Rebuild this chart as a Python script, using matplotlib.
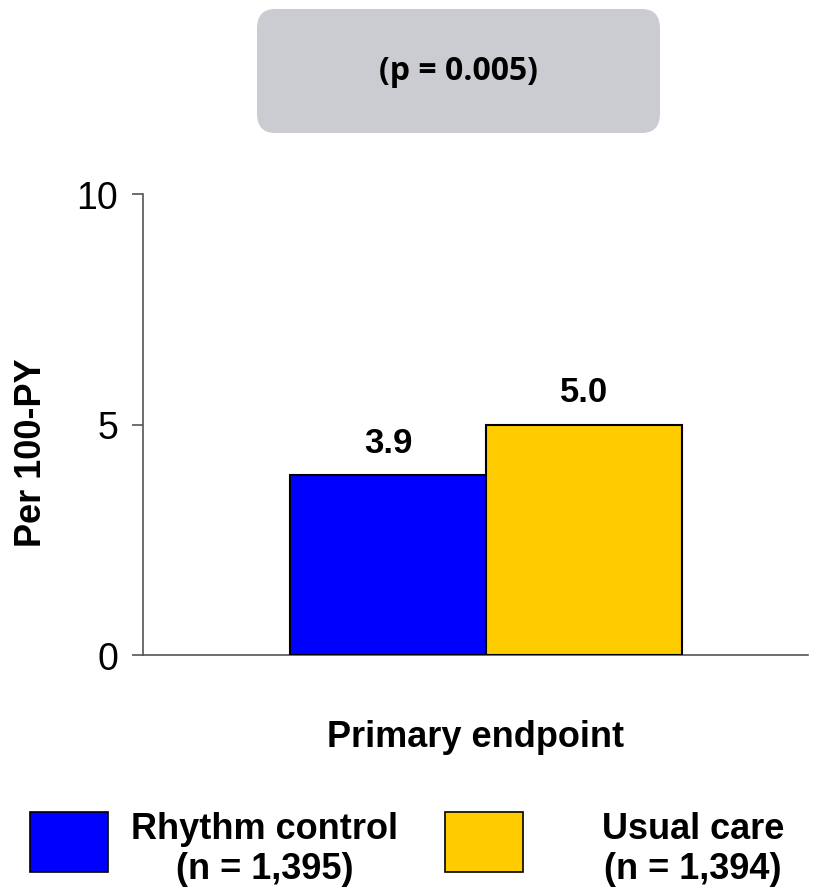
import matplotlib
matplotlib.use("Agg")
import matplotlib.pyplot as plt
from matplotlib.patches import FancyBboxPatch, Rectangle

groups = ["Rhythm control", "Usual care"]
group_n = ["(n = 1,395)", "(n = 1,394)"]
values = [3.9, 5.0]
colors = ["#0000FF", "#FFCC00"]
yticks = [0, 5, 10]
xlabel = "Primary endpoint"
ylabel = "Per 100-PY"
pvalue_text = "(p = 0.005)"

plt.rcParams['font.family'] = ['Liberation Sans', 'DejaVu Sans']

fig = plt.figure(figsize=(8.2, 8.95), dpi=100)
ax = fig.add_axes([143/820, 1-656/895, (808-143)/820, (656-195)/895])

xs = [0, 1]
ax.bar(xs, values, width=1.0, color=colors, edgecolor="black", linewidth=1.5, zorder=3)
for x, v in zip(xs, values):
    ax.text(x, v + 0.35, f"{v:.1f}", ha="center", va="bottom", fontsize=25, fontweight="bold")

ax.set_xlim(-1.25, 2.143)
ax.set_ylim(0, 10)
ax.set_yticks(yticks)
ax.set_yticklabels([str(t) for t in yticks], fontsize=27)
ax.set_xticks([])
ax.spines['top'].set_visible(False)
ax.spines['right'].set_visible(False)
for s in ['left', 'bottom']:
    ax.spines[s].set_color('#555555')
    ax.spines[s].set_linewidth(1.2)
ax.tick_params(axis='y', length=8, width=1.2, color='#555555', pad=10)
ax.set_ylabel(ylabel, fontsize=26, fontweight="bold")
ax.yaxis.set_label_coords(-0.141, 0.442)
ax.set_xlabel(xlabel, fontsize=26, fontweight="bold", labelpad=46)

# p-value box
box = FancyBboxPatch((257/820, 1-134/895), (660-257)/820, (134-10)/895,
                     boxstyle="round,pad=0,rounding_size=0.022",
                     transform=fig.transFigure, facecolor="#CBCCD1", edgecolor="none")
fig.patches.append(box)
fig.text(458/820, 1-72/895, pvalue_text, ha="center", va="center", fontsize=23,
         fontweight="bold", family=['Open Sans', 'DejaVu Sans'])

# legend
sq = [(30, 813), (445, 813)]
txt_x = [265, 693]
for (x0, y0), c, g, n, tx in zip(sq, colors, groups, group_n, txt_x):
    r = Rectangle((x0/820, 1-(y0+60)/895), 78/820, 60/895, transform=fig.transFigure,
                  facecolor=c, edgecolor="black", linewidth=1.2)
    fig.patches.append(r)
    fig.text(tx/820, 1-830/895, g, ha="center", va="center", fontsize=26, fontweight="bold")
    fig.text(tx/820, 1-870/895, n, ha="center", va="center", fontsize=26, fontweight="bold")

fig.savefig("out.png", dpi=100)
